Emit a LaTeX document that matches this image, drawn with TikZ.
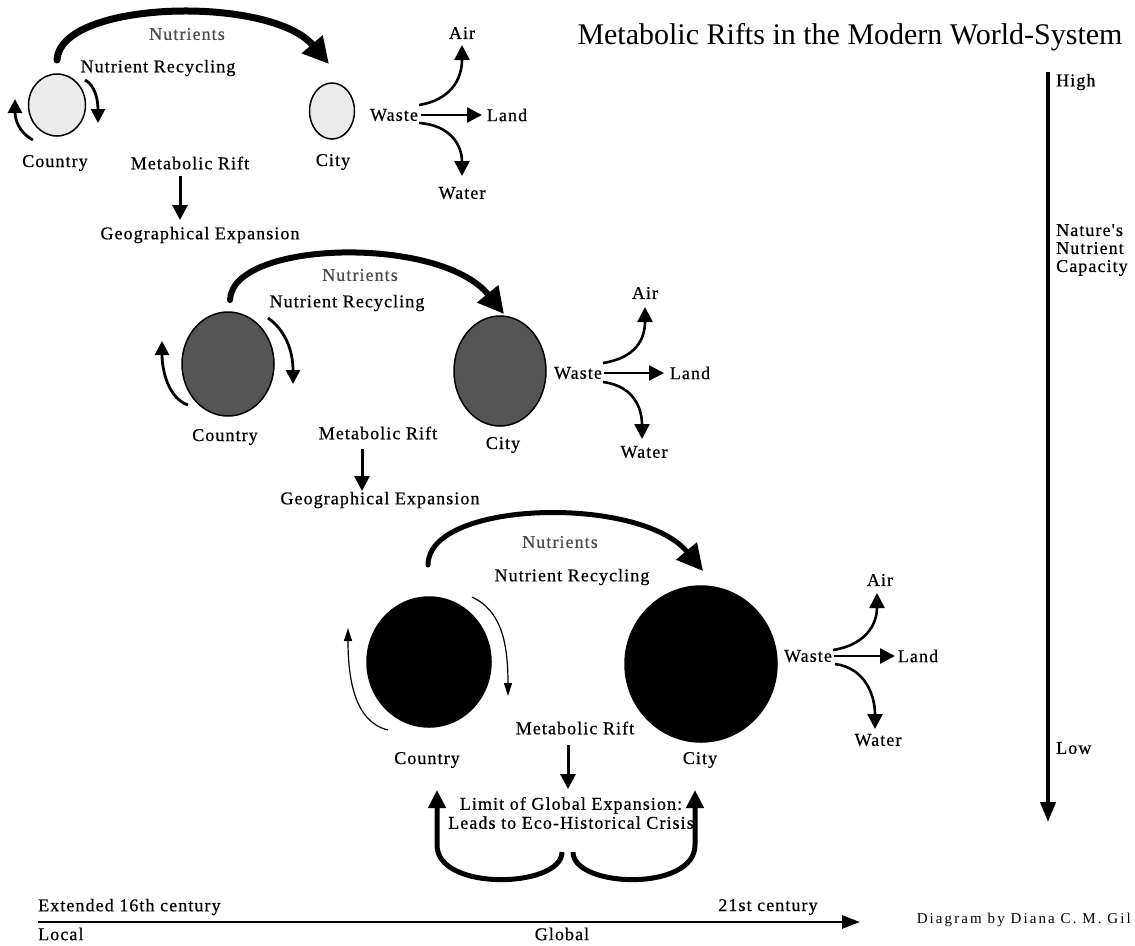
\documentclass[tikz,border=0pt]{standalone}
\usepackage{fontspec}
\setmainfont{Liberation Serif}
\newfontfamily\spaced[LetterSpace=6,FakeBold=0.6]{Liberation Serif}
\newfontfamily\wide[LetterSpace=14]{Liberation Serif}
\usetikzlibrary{shapes.geometric,arrows.meta}
\definecolor{lite}{HTML}{EBEBEB}
\definecolor{mid}{HTML}{555555}
\begin{document}
\begin{tikzpicture}[x=1pt,y=-1pt,
  lbl/.style={font=\spaced\fontsize{18}{19}\selectfont, inner sep=0pt},
  blob/.style={ellipse, draw=black, line width=1.5pt, inner sep=0pt},
  nutarc/.style={line width=#1, line cap=round, -{Triangle[length=26pt,width=26pt]}},
  recarr/.style={line width=2.8pt, -{Triangle[length=14pt,width=14pt]}},
  thinrec/.style={line width=1.2pt, -{Triangle[length=13pt,width=8pt]}},
  wastearr/.style={line width=2.6pt, -{Triangle[length=15pt,width=15pt]}},
  riftarr/.style={line width=3pt, -{Triangle[length=15pt,width=15pt]}},
  looparr/.style={line width=5pt, -{Triangle[length=18pt,width=17pt]}},
]
\useasboundingbox[fill=white] (0,0) rectangle (1135,945);

% title
\node[font=\fontsize{30}{32}\selectfont, inner sep=0pt] (title) at (850,37) {Metabolic Rifts in the Modern World-System};

% ===== Stage 1 =====
\node[blob, fill=lite, minimum width=57pt, minimum height=62pt] (co1) at (57,105) {};
\node[blob, fill=lite, minimum width=45pt, minimum height=56pt] (ci1) at (332,111) {};
\node[lbl] (con1) at (55,163) {Country};
\node[lbl] (cit1) at (333,162) {City};
\node[lbl, text=black!70] (nu1) at (187,34) {Nutrients};
\node[lbl] (nr1) at (158,68) {Nutrient Recycling};
\node[lbl] (mr1) at (190,163) {Metabolic Rift};
\node[lbl] (ge1) at (200,235) {Geographical Expansion};
\node[lbl] (w1) at (394,115) {Waste};
\node[lbl] (a1) at (462,33) {Air};
\node[lbl] (l1) at (507,115) {Land};
\node[lbl] (wt1) at (462,193) {Water};
\coordinate (n1s) at (57,60); \coordinate (n1e) at (329,64);
\draw[nutarc=7pt] (n1s) .. controls (60,0) and (270,-5) .. (n1e);
\coordinate (r1a) at (85,80); \coordinate (r1b) at (98,123);
\draw[recarr] (r1a) .. controls (95,85) and (98,100) .. (r1b);
\coordinate (r1c) at (33,140); \coordinate (r1d) at (15,99);
\draw[recarr] (r1c) .. controls (18,132) and (15,118) .. (r1d);
\coordinate (m1a) at (180,176); \coordinate (m1b) at (180,220);
\draw[riftarr] (m1a) -- (m1b);
\coordinate (w1l) at (421,115); \coordinate (w1u) at (419,105); \coordinate (w1d) at (419,123);
\coordinate (a1t) at (462,45); \coordinate (wt1t) at (462,176);
\draw[wastearr] (w1l) -- (482,115) coordinate (l1t);
\draw[wastearr] (w1u) .. controls (450,100) and (462,80) .. (a1t);
\draw[wastearr] (w1d) .. controls (450,125) and (462,145) .. (wt1t);

% ===== Stage 2 =====
\node[blob, fill=mid, minimum width=92pt, minimum height=104pt] (co2) at (228,364) {};
\node[blob, fill=mid, minimum width=92pt, minimum height=110pt] (ci2) at (500,371) {};
\node[lbl] (con2) at (225,437) {Country};
\node[lbl] (cit2) at (503,445) {City};
\node[lbl, text=black!70] (nu2) at (360,275) {Nutrients};
\node[lbl] (nr2) at (347,303) {Nutrient Recycling};
\node[lbl] (mr2) at (378,433) {Metabolic Rift};
\node[lbl] (ge2) at (380,500) {Geographical Expansion};
\node[lbl] (w2) at (578,373) {Waste};
\node[lbl] (a2) at (645,293) {Air};
\node[lbl] (l2) at (690,373) {Land};
\node[lbl] (wt2) at (644,452) {Water};
\coordinate (n2s) at (230,300); \coordinate (n2e) at (504,314);
\draw[nutarc=6pt] (n2s) .. controls (232,240) and (440,235) .. (n2e);
\coordinate (r2a) at (268,318); \coordinate (r2b) at (293,384);
\draw[recarr] (r2a) .. controls (285,330) and (293,350) .. (r2b);
\coordinate (r2c) at (188,405); \coordinate (r2d) at (162,341);
\draw[recarr] (r2c) .. controls (168,398) and (162,370) .. (r2d);
\coordinate (m2a) at (362,449); \coordinate (m2b) at (362,491);
\draw[riftarr] (m2a) -- (m2b);
\coordinate (w2l) at (604,373); \coordinate (w2u) at (603,363); \coordinate (w2d) at (603,382);
\coordinate (a2t) at (645,307); \coordinate (wt2t) at (642,439);
\draw[wastearr] (w2l) -- (664,373) coordinate (l2t);
\draw[wastearr] (w2u) .. controls (635,358) and (645,340) .. (a2t);
\draw[wastearr] (w2d) .. controls (635,386) and (642,410) .. (wt2t);

% ===== Stage 3 =====
\node[blob, fill=black, minimum width=124pt, minimum height=130pt] (co3) at (429,662) {};
\node[blob, fill=black, minimum width=152pt, minimum height=156pt] (ci3) at (701,664) {};
\node[lbl] (con3) at (427,760) {Country};
\node[lbl] (cit3) at (700,760) {City};
\node[lbl, text=black!70] (nu3) at (560,542) {Nutrients};
\node[lbl] (nr3) at (572,577) {Nutrient Recycling};
\node[lbl] (mr3) at (575,728) {Metabolic Rift};
\node[lbl, align=center] (lim) at (571,813) {Limit of Global Expansion:\\Leads to Eco-Historical Crisis};
\node[lbl] (w3) at (808,656) {Waste};
\node[lbl] (a3) at (880,580) {Air};
\node[lbl] (l3) at (918,656) {Land};
\node[lbl] (wt3) at (878,740) {Water};
\coordinate (n3s) at (428,565); \coordinate (n3e) at (703,571);
\draw[nutarc=5pt] (n3s) .. controls (428,500) and (640,495) .. (n3e);
\coordinate (r3a) at (472,597); \coordinate (r3b) at (508,696);
\draw[thinrec] (r3a) .. controls (500,610) and (508,640) .. (r3b);
\coordinate (r3c) at (388,730); \coordinate (r3d) at (348,628);
\draw[thinrec] (r3c) .. controls (355,722) and (348,680) .. (r3d);
\coordinate (m3a) at (568,745); \coordinate (m3b) at (568,789);
\draw[riftarr] (m3a) -- (m3b);
\coordinate (w3l) at (834,656); \coordinate (w3u) at (833,650); \coordinate (w3d) at (835,664);
\coordinate (a3t) at (877,593); \coordinate (wt3t) at (875,729);
\draw[wastearr] (w3l) -- (895,656) coordinate (l3t);
\draw[wastearr] (w3u) .. controls (865,645) and (877,625) .. (a3t);
\draw[wastearr] (w3d) .. controls (865,668) and (875,695) .. (wt3t);
% loops under the crisis text
\coordinate (lpL) at (562,852); \coordinate (lpR) at (573,852);
\coordinate (tipL) at (437,790); \coordinate (tipR) at (695,790);
\draw[looparr] (lpL) .. controls (562,888) and (437,892) .. (437,845) -- (tipL);
\draw[looparr] (lpR) .. controls (573,888) and (695,892) .. (695,845) -- (tipR);

% ===== right axis =====
\coordinate (ax1) at (1048,72); \coordinate (ax2) at (1048,822);
\draw[line width=4pt, -{Triangle[length=20pt,width=15pt]}] (ax1) -- (ax2);
\node[lbl, anchor=west] (high) at (1056,82) {High};
\node[lbl, anchor=west, align=left, font=\spaced\fontsize{18}{18}\selectfont] (cap) at (1056,250) {Nature's\\Nutrient\\Capacity};
\node[lbl, anchor=west] (low) at (1056,748) {Low};

% ===== bottom axis =====
\coordinate (bx1) at (38,922); \coordinate (bx2) at (860,922);
\draw[line width=2.5pt, -{Triangle[length=18pt,width=13pt]}] (bx1) -- (bx2);
\node[lbl, anchor=west] (ext) at (38,907) {Extended 16th century};
\node[lbl] (c21) at (768,907) {21st century};
\node[lbl, anchor=west] (loc) at (38,934) {Local};
\node[lbl] (glob) at (562,934) {Global};
\node[font=\wide\fontsize{15}{16}\selectfont, inner sep=0pt, anchor=east] (credit) at (1131,920) {Diagram by Diana C. M. Gil};
\end{tikzpicture}
\end{document}
